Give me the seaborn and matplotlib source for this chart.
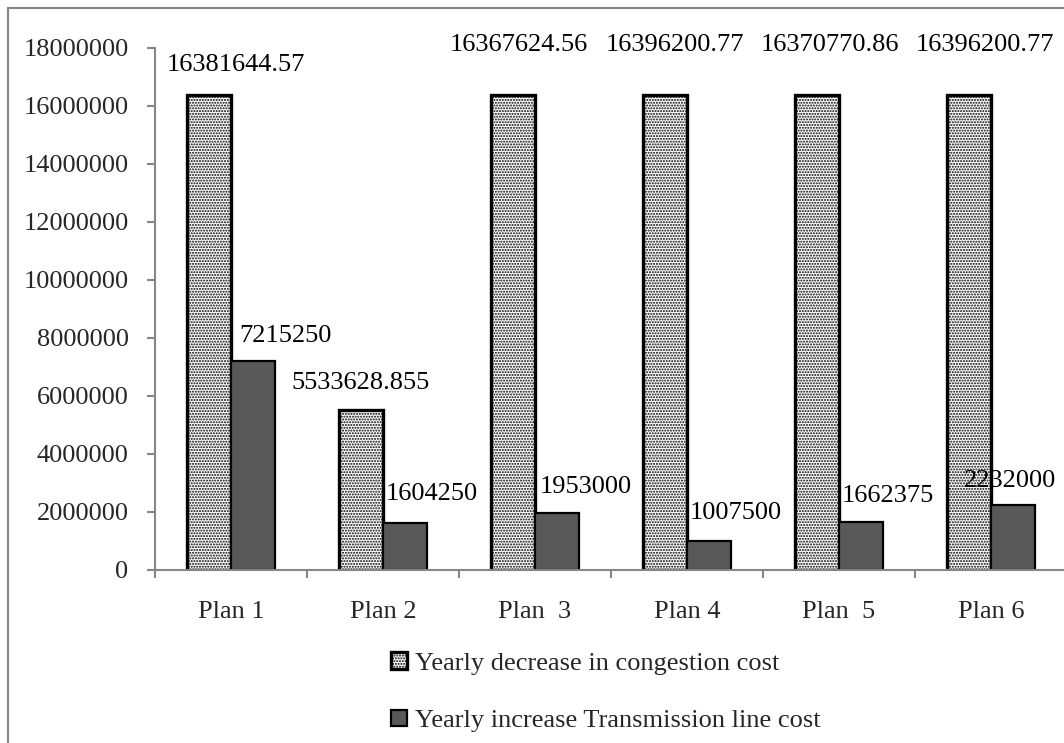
import matplotlib
matplotlib.use("Agg")
import matplotlib.pyplot as plt
import seaborn as sns
import pandas as pd
from matplotlib.patches import Rectangle

plans = ["Plan 1", "Plan 2", "Plan  3", "Plan 4", "Plan  5", "Plan 6"]
series = ["Yearly decrease in congestion cost", "Yearly increase Transmission line cost"]
congestion = [16381644.57, 5533628.855, 16367624.56, 16396200.77, 16370770.86, 16396200.77]
transmission = [7215250, 1604250, 1953000, 1007500, 1662375, 2232000]
congestion_labels = ["16381644.57", "5533628.855", "16367624.56", "16396200.77", "16370770.86", "16396200.77"]
transmission_labels = ["7215250", "1604250", "1953000", "1007500", "1662375", "2232000"]
yticks = list(range(0, 18000001, 2000000))

# label offsets in pixels (dx, dy) relative to bar top centre
cong_off = [(27, 30), (0, 27), (6, 50), (10, 50), (13, 50), (16, 50)]
trans_off = [(32, 25), (27, 29), (29, 26), (27, 28), (27, 26), (-3, 24)]

sns.set_style("white")
plt.rcParams["font.family"] = ["Liberation Serif", "DejaVu Serif"]
plt.rcParams["hatch.linewidth"] = 1.0

df = pd.DataFrame({
    "plan": plans * 2,
    "value": congestion + transmission,
    "series": [series[0]] * len(plans) + [series[1]] * len(plans),
})

fig = plt.figure(figsize=(10.64, 7.43), dpi=100)
ax = fig.add_axes([155 / 1064, 1 - 570 / 743, 912 / 1064, (570 - 48) / 743])

sns.barplot(data=df, x="plan", y="value", hue="series", hue_order=series,
            palette=["white", "#595959"], width=0.58, gap=0, legend=False,
            saturation=1, ax=ax, edgecolor="black", linewidth=1.6)

for bar in ax.containers[0]:
    bar.set_hatch("......")
    bar.set_linewidth(2.4)

for cont, labels, offs in [(ax.containers[0], congestion_labels, cong_off),
                           (ax.containers[1], transmission_labels, trans_off)]:
    for bar, lab, (dx, dy) in zip(cont, labels, offs):
        ax.annotate(lab, (bar.get_x() + bar.get_width() / 2, bar.get_height()),
                    xytext=(dx, dy), textcoords="offset pixels",
                    ha="center", va="center", fontsize=19, color="black")

ax.set_ylim(0, 18000000)
ax.set_xlim(-0.5, len(plans) - 0.5)
ax.set_yticks(yticks)
ax.set_yticklabels([str(t) for t in yticks])
ax.set_xlabel("")
ax.set_ylabel("")

for s in ["top", "right"]:
    ax.spines[s].set_visible(False)
for s in ["left", "bottom"]:
    ax.spines[s].set_color("#868686")
    ax.spines[s].set_linewidth(1.5)

ax.tick_params(axis="y", direction="out", length=6, width=1.5, color="#868686",
               labelsize=19, pad=13, left=True)
ax.tick_params(axis="x", which="major", length=0, labelsize=19, pad=22)
ax.set_xticks([i - 0.5 for i in range(len(plans) + 1)], minor=True)
ax.tick_params(axis="x", which="minor", direction="out", length=6, width=1.5,
               color="#868686", bottom=True)

ax.legend(handles=list(ax.containers), labels=series, loc="upper left",
          bbox_to_anchor=(391 / 1064, 1 - 652 / 743), bbox_transform=fig.transFigure,
          frameon=False, fontsize=19, handlelength=0.6, handleheight=0.6,
          handletextpad=0.3, labelspacing=1.32, borderpad=0, borderaxespad=0)

fig.patches.append(Rectangle((8 / 1064, -0.1), 1.2, 1.1 - 8 / 743, transform=fig.transFigure,
                             fill=False, edgecolor="#868686", linewidth=1.5))

fig.savefig("out.png", dpi=100)
